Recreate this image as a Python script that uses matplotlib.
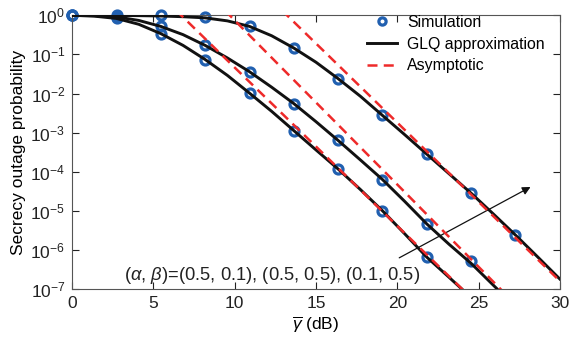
import numpy as np
import matplotlib
matplotlib.use("Agg")
import matplotlib.pyplot as plt

plt.rcParams['font.family'] = ['Liberation Sans', 'DejaVu Sans']
plt.rcParams['mathtext.fontset'] = 'custom'
plt.rcParams['mathtext.rm'] = 'Liberation Sans'
plt.rcParams['mathtext.it'] = 'Liberation Sans:italic'

# simulation points (SNR in dB)
snr_sim = [0, 2.73, 5.45, 8.18, 10.91, 13.64, 16.36, 19.09, 21.82, 24.55, 27.27]
sim_1 = [1.0, 0.83, 0.34, 0.074, 1.02e-2, 1.12e-3, 1.17e-4, 1.0e-5, 6.5e-7]
sim_2 = [1.0, 0.93, 0.52, 0.17, 3.6e-2, 5.5e-3, 6.3e-4, 6.2e-5, 4.6e-6, 5.3e-7]
sim_3 = [1.0, 1.0, 1.0, 0.93, 0.52, 0.145, 2.4e-2, 2.75e-3, 2.8e-4, 2.8e-5, 2.4e-6]

# GLQ approximation
snr_glq = [0, 1.36, 2.73, 4.09, 5.45, 6.82, 8.18, 9.55, 10.91, 12.27, 13.64,
           15.0, 16.36, 17.73, 19.09, 20.45, 21.82, 23.18, 24.55, 25.91, 27.27,
           28.64, 30.0]
glq_1 = [1.0, 0.95, 0.83, 0.59, 0.34, 0.17, 0.074, 2.9e-2, 1.02e-2, 3.5e-3,
         1.12e-3, 3.6e-4, 1.17e-4, 3.5e-5, 1.0e-5, 2.6e-6, 6.5e-7, 2.0e-7, 6.0e-8]
glq_2 = [1.0, 0.98, 0.91, 0.74, 0.52, 0.32, 0.17, 8.1e-2, 3.6e-2, 1.45e-2,
         5.5e-3, 1.9e-3, 6.3e-4, 2.0e-4, 6.3e-5, 1.75e-5, 4.6e-6, 1.4e-6,
         4.5e-7, 1.25e-7, 3.5e-8]
glq_3 = [1.0, 1.0, 0.99, 0.98, 0.96, 0.92, 0.86, 0.72, 0.52, 0.30, 0.145,
         6.3e-2, 2.4e-2, 8.5e-3, 2.75e-3, 8.9e-4, 2.8e-4, 8.9e-5, 2.8e-5,
         8.3e-6, 2.4e-6, 6.6e-7, 1.8e-7]

# asymptotic
snr_asy = [5, 10, 15, 20, 25, 30]
asy_1 = [4.9, 4.6e-2, 4.4e-4, 4.1e-6, 3.9e-8, 3.6e-10]
asy_2 = [93, 0.74, 5.9e-3, 4.7e-5, 3.7e-7, 2.9e-9]
asy_3 = [2100, 20, 0.19, 1.8e-3, 1.7e-5, 1.6e-7]

blue = '#2160b0'
red = '#ee2a2a'

fig, ax = plt.subplots(figsize=(5.73, 3.4), dpi=100)
fig.subplots_adjust(left=0.126, right=0.977, top=0.955, bottom=0.15)

for sim in [sim_1, sim_2, sim_3]:
    ax.plot(snr_sim[:len(sim)], sim, 'o', mfc='none', mec=blue, ms=6.5, mew=2.3,
            clip_on=False, zorder=2,
            label='Simulation' if sim is sim_1 else None)
for glq in [glq_1, glq_2, glq_3]:
    ax.plot(snr_glq[:len(glq)], glq, '-', color='#111111', lw=2.1, zorder=3,
            label='GLQ approximation' if glq is glq_1 else None)
for asy in [asy_1, asy_2, asy_3]:
    ax.plot(snr_asy, asy, '--', color=red, lw=1.8, dashes=(4, 2.5), zorder=4,
            label='Asymptotic' if asy is asy_1 else None)

ax.set_yscale('log')
ax.set_xlim(0, 30)
ax.set_ylim(1e-7, 1.0)
ax.set_xticks([0, 5, 10, 15, 20, 25, 30])
ax.set_yticks([10.0**k for k in range(-7, 1)])
ax.tick_params(which='both', direction='in', top=True, right=True,
               labelsize=12.5, colors='#222222', pad=5)
ax.tick_params(which='major', length=5)
ax.tick_params(which='minor', length=2.5)
for s in ax.spines.values():
    s.set_color('#555555')

ax.set_xlabel(r'$\overline{\gamma}$ (dB)', fontsize=12.5, labelpad=3)
ax.set_ylabel('Secrecy outage probability', fontsize=12.5, labelpad=3)

ax.annotate('', xy=(28.35, 4.4e-5), xytext=(19.97, 5.8e-7),
            arrowprops=dict(arrowstyle='-|>', color='#111111', lw=0.9,
                            mutation_scale=12))
ax.text(3.2, 1.22e-7, r'($\it{\alpha}$, $\it{\beta}$)=(0.5, 0.1), (0.5, 0.5), (0.1, 0.5)',
        fontsize=13.2, va='bottom', color='#222222')

leg = ax.legend(loc='upper right', frameon=False, fontsize=11.4, handlelength=1.9,
                borderaxespad=0.1, labelspacing=0.42, handletextpad=0.6,
                markerscale=0.8, bbox_to_anchor=(0.985, 1.03))

fig.savefig('out.png', dpi=100)
